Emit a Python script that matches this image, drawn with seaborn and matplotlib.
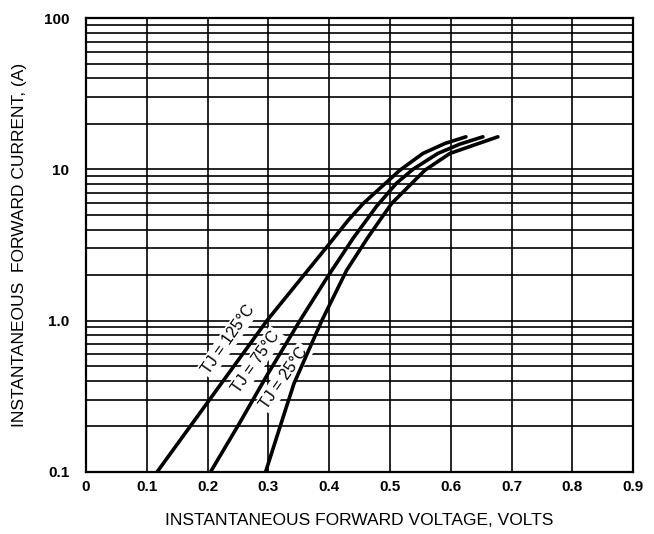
import numpy as np
import pandas as pd
import matplotlib
matplotlib.use("Agg")
import matplotlib.pyplot as plt
from matplotlib.ticker import FixedLocator, FixedFormatter, LogLocator, NullFormatter
import seaborn as sns

# forward voltage (V) vs instantaneous forward current (A)
v_125 = [0.1173, 0.2977, 0.352, 0.3985, 0.4314, 0.4561, 0.5164, 0.5543, 0.5905, 0.625]
i_125 = [0.1, 1.0, 1.857, 3.153, 4.615, 5.955, 9.89, 12.76, 14.86, 16.44]

v_75 = [0.2051, 0.2533, 0.2982, 0.352, 0.398, 0.4396, 0.4781, 0.511, 0.5383, 0.5789, 0.6151, 0.653]
i_75 = [0.1, 0.212, 0.4375, 1.0, 1.965, 3.51, 5.71, 8.12, 10.05, 12.76, 14.71, 16.44]

v_25 = [0.2956, 0.3235, 0.3421, 0.3877, 0.4288, 0.4643, 0.5028, 0.5576, 0.5987, 0.6382, 0.6776]
i_25 = [0.1, 0.2244, 0.3827, 0.994, 2.153, 3.577, 5.955, 9.89, 12.76, 14.49, 16.44]

labels = ["TJ = 125°C", "TJ = 75°C", "TJ = 25°C"]
x_ticks = [0, 0.1, 0.2, 0.3, 0.4, 0.5, 0.6, 0.7, 0.8, 0.9]
x_ticklabels = ["0", "0.1", "0.2", "0.3", "0.4", "0.5", "0.6", "0.7", "0.8", "0.9"]
y_ticks = [0.1, 1, 10, 100]
y_ticklabels = ["0.1", "1.0", "10", "100"]

df = pd.concat([
    pd.DataFrame({"v": v_125, "i": i_125, "tj": labels[0]}),
    pd.DataFrame({"v": v_75, "i": i_75, "tj": labels[1]}),
    pd.DataFrame({"v": v_25, "i": i_25, "tj": labels[2]}),
])

sns.set_style("white")
plt.rcParams["font.family"] = ["Liberation Sans", "DejaVu Sans"]
plt.rcParams["text.color"] = "black"
plt.rcParams["axes.labelcolor"] = "black"
plt.rcParams["xtick.color"] = "black"
plt.rcParams["ytick.color"] = "black"

fig = plt.figure(figsize=(6.54, 5.34), dpi=100)
ax = fig.add_axes([0.1315, 0.1167, 0.8365, 0.849])

sns.lineplot(data=df, x="v", y="i", hue="tj", palette=["black"] * 3,
             linewidth=2.6, sort=False, estimator=None, legend=False, ax=ax)
for ln in ax.get_lines():
    ln.set_solid_joinstyle("round")
    ln.set_solid_capstyle("round")
    ln.set_zorder(3)

ax.set_yscale("log")
ax.set_xlim(0, 0.9)
ax.set_ylim(0.1, 100)

ax.xaxis.set_major_locator(FixedLocator(x_ticks))
ax.xaxis.set_major_formatter(FixedFormatter(x_ticklabels))
ax.yaxis.set_major_locator(FixedLocator(y_ticks))
ax.yaxis.set_major_formatter(FixedFormatter(y_ticklabels))
ax.yaxis.set_minor_locator(LogLocator(base=10, subs=np.arange(2, 10)))
ax.yaxis.set_minor_formatter(NullFormatter())

ax.set_axisbelow(True)
ax.grid(True, which="major", color="black", linewidth=1.2)
ax.grid(True, which="minor", axis="y", color="black", linewidth=1.2)
ax.tick_params(axis="both", which="both", length=0, labelsize=11, labelcolor="black")
ax.tick_params(axis="y", pad=12)
ax.tick_params(axis="x", pad=6)
for lab in ax.get_xticklabels() + ax.get_yticklabels():
    lab.set_fontweight("bold")
for sp in ax.spines.values():
    sp.set_color("black")
    sp.set_linewidth(1.6)

ax.set_xlabel("INSTANTANEOUS FORWARD VOLTAGE, VOLTS", fontsize=12.5, labelpad=14)
ax.set_ylabel("INSTANTANEOUS  FORWARD CURRENT, (A)", fontsize=12.5, labelpad=12)

# curve labels, rotated along the lines; white boxes hide the grid but sit under the curves
label_pos = [(0.234, 0.751), (0.2793, 0.532), (0.326, 0.418)]
for txt, (lx, ly) in zip(labels, label_pos):
    ax.text(lx, ly, txt, rotation=55, ha="center", va="center", fontsize=11.5,
            rotation_mode="anchor",
            bbox=dict(facecolor="white", edgecolor="none", pad=1.5), zorder=1.5)

fig.savefig("out.png", dpi=100)
